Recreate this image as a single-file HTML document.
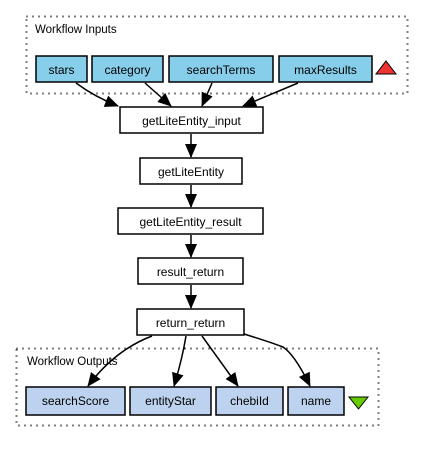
<html><body style="margin:0;background:#fff">
<svg width="423" height="453" xmlns="http://www.w3.org/2000/svg" font-family="Liberation Sans, sans-serif" font-size="12">
<defs><marker id="a" markerWidth="14" markerHeight="12" refX="13" refY="6" orient="auto" markerUnits="userSpaceOnUse"><path d="M0,0 L14,6 L0,12 z" fill="#000"/></marker></defs>
<rect x="26.5" y="16.5" width="381" height="77" fill="none" stroke="#000" stroke-width="2" stroke-dasharray="1,5"/>
<text x="35" y="33" font-size="11.5">Workflow Inputs</text>
<g stroke="#000" stroke-width="1.5" fill="#87ceeb">
<rect x="36" y="56" width="51" height="26"/><rect x="92" y="56" width="71" height="26"/>
<rect x="169" y="56" width="104" height="26"/><rect x="279" y="56" width="93" height="26"/>
</g>
<polygon points="386,61 396,74 376,74" fill="#ee3333" stroke="#000"/>
<g text-anchor="middle">
<text x="61.5" y="74">stars</text><text x="127.5" y="74">category</text>
<text x="221" y="74">searchTerms</text><text x="325.5" y="74">maxResults</text>
</g>
<g stroke="#000" stroke-width="1.5" fill="none" marker-end="url(#a)">
<path d="M76,83 Q95,97 118,106"/><path d="M145,83 L171,106"/>
<path d="M212,83 L202,106"/><path d="M298,83 L243,106"/>
<path d="M191,134 V157"/><path d="M191,185 V207"/><path d="M191,235 V257"/><path d="M191,285 V308"/>
<path d="M152,336 Q115,350 88,386"/><path d="M186,336 Q182,360 174,386"/>
<path d="M202,336 L238,386"/><path d="M244,334 Q270,342 283,347 Q295,355 310,386"/>
</g>
<g stroke="#000" stroke-width="1.5" fill="#fff">
<rect x="120" y="107" width="143" height="26"/><rect x="140" y="158" width="102" height="26"/>
<rect x="118" y="208" width="145" height="26"/><rect x="138" y="258" width="105" height="26"/>
<rect x="137" y="309" width="107" height="26"/>
</g>
<g text-anchor="middle">
<text x="191.5" y="125">getLiteEntity_input</text><text x="191" y="176">getLiteEntity</text>
<text x="190.5" y="226">getLiteEntity_result</text><text x="190.5" y="276">result_return</text>
<text x="190.5" y="327">return_return</text>
</g>
<rect x="16.5" y="348.5" width="362" height="77" fill="none" stroke="#000" stroke-width="2" stroke-dasharray="1,5"/>
<text x="27" y="365" font-size="11.5">Workflow Outputs</text>
<g stroke="#000" stroke-width="1.5" fill="#bcd2ee">
<rect x="26" y="387" width="99" height="28"/><rect x="130" y="387" width="81" height="28"/>
<rect x="216" y="387" width="67" height="28"/><rect x="288" y="387" width="56" height="28"/>
</g>
<polygon points="349,397 368,397 358.5,409" fill="#66cc00" stroke="#000"/>
<g text-anchor="middle">
<text x="75.5" y="405">searchScore</text><text x="170.5" y="405">entityStar</text>
<text x="249.5" y="405">chebiId</text><text x="316" y="405">name</text>
</g>
</svg>
</body></html>
